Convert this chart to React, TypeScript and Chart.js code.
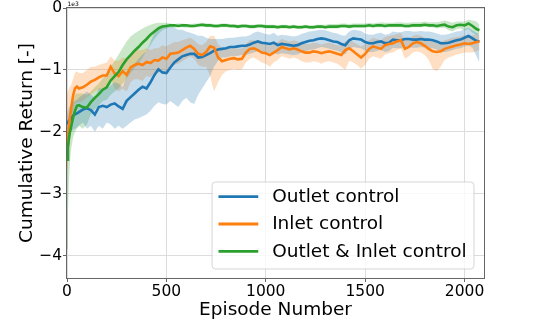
import React, { useEffect, useRef } from "react";
import { Chart, registerables } from "chart.js";

Chart.register(...registerables);

// Episode numbers (x)
const episodes = [
  0, 5, 10, 15, 20, 30, 40, 50, 60,
  80, 100, 120, 140, 160, 180, 200, 220, 240, 260,
  280, 300, 320, 340, 360, 380, 400, 420, 440, 460,
  480, 500, 520, 540, 560, 580, 600, 620, 640, 660,
  680, 700, 720, 740, 760, 780, 800, 820, 840, 860,
  880, 900, 920, 940, 960, 980, 1000, 1020, 1040, 1060,
  1080, 1100, 1120, 1140, 1160, 1180, 1200, 1220, 1240, 1260,
  1280, 1300, 1320, 1340, 1360, 1380, 1400, 1420, 1440, 1460,
  1480, 1500, 1520, 1540, 1560, 1580, 1600, 1620, 1640, 1660,
  1680, 1700, 1720, 1740, 1760, 1780, 1800, 1820, 1840, 1860,
  1880, 1900, 1920, 1940, 1960, 1980, 2000, 2020, 2040, 2060,
  2075,
];

// Values in units of 1e3
const outletMean = [
  -1.86, -1.84, -1.82, -1.80, -1.80, -1.74, -1.72, -1.70, -1.68,
  -1.64, -1.62, -1.65, -1.72, -1.60, -1.58, -1.60, -1.56, -1.54, -1.59,
  -1.63, -1.50, -1.44, -1.38, -1.32, -1.27, -1.30, -1.20, -1.08, -0.99,
  -1.04, -1.05, -0.96, -0.88, -0.83, -0.78, -0.76, -0.74, -0.74, -0.80,
  -0.79, -0.76, -0.73, -0.69, -0.67, -0.66, -0.65, -0.63, -0.63, -0.62,
  -0.61, -0.61, -0.59, -0.56, -0.54, -0.56, -0.57, -0.58, -0.56, -0.60,
  -0.58, -0.59, -0.60, -0.61, -0.60, -0.57, -0.55, -0.53, -0.52, -0.50,
  -0.49, -0.50, -0.52, -0.54, -0.55, -0.58, -0.60, -0.52, -0.49, -0.50,
  -0.51, -0.55, -0.57, -0.57, -0.55, -0.54, -0.57, -0.56, -0.51, -0.52,
  -0.52, -0.50, -0.50, -0.51, -0.51, -0.50, -0.51, -0.51, -0.52, -0.54,
  -0.57, -0.57, -0.56, -0.54, -0.52, -0.51, -0.48, -0.45, -0.49, -0.53,
  -0.54,
];
const outletUpper = [
  -1.70, -1.65, -1.60, -1.58, -1.55, -1.52, -1.50, -1.48, -1.45,
  -1.40, -1.35, -1.40, -1.45, -1.30, -1.30, -1.30, -1.25, -1.20, -1.22,
  -1.28, -1.10, -1.00, -0.90, -0.82, -0.75, -0.70, -0.55, -0.40, -0.30,
  -0.30, -0.28, -0.30, -0.32, -0.35, -0.35, -0.38, -0.40, -0.42, -0.45,
  -0.45, -0.48, -0.50, -0.50, -0.50, -0.50, -0.49, -0.48, -0.48, -0.47,
  -0.46, -0.46, -0.44, -0.40, -0.38, -0.40, -0.42, -0.43, -0.40, -0.45,
  -0.43, -0.44, -0.45, -0.46, -0.45, -0.42, -0.40, -0.38, -0.37, -0.36,
  -0.35, -0.36, -0.38, -0.40, -0.41, -0.44, -0.45, -0.38, -0.35, -0.36,
  -0.37, -0.41, -0.43, -0.43, -0.41, -0.40, -0.43, -0.42, -0.38, -0.39,
  -0.39, -0.37, -0.37, -0.38, -0.38, -0.37, -0.38, -0.38, -0.39, -0.41,
  -0.43, -0.43, -0.42, -0.40, -0.38, -0.37, -0.34, -0.32, -0.36, -0.40,
  -0.42,
];
const outletLower = [
  -1.95, -1.98, -2.00, -2.00, -2.00, -1.97, -1.95, -1.93, -1.90,
  -1.85, -1.95, -1.90, -2.00, -1.90, -1.95, -1.85, -1.88, -1.95, -1.90,
  -1.95, -1.90, -1.85, -1.80, -1.78, -1.75, -1.72, -1.66, -1.58, -1.52,
  -1.55, -1.56, -1.50, -1.55, -1.60, -1.50, -1.45, -1.52, -1.55, -1.40,
  -1.30, -1.20, -1.10, -0.95, -0.85, -0.80, -0.80, -0.78, -0.78, -0.77,
  -0.76, -0.76, -0.74, -0.72, -0.70, -0.72, -0.72, -0.73, -0.72, -0.75,
  -0.73, -0.74, -0.75, -0.76, -0.75, -0.72, -0.70, -0.68, -0.67, -0.65,
  -0.63, -0.64, -0.66, -0.68, -0.69, -0.72, -0.75, -0.66, -0.63, -0.64,
  -0.65, -0.69, -0.71, -0.71, -0.69, -0.68, -0.71, -0.70, -0.64, -0.65,
  -0.65, -0.63, -0.63, -0.64, -0.64, -0.63, -0.64, -0.64, -0.65, -0.67,
  -0.71, -0.71, -0.70, -0.68, -0.66, -0.65, -0.62, -0.60, -0.64, -0.78,
  -0.88,
];

const inletMean = [
  -2.20, -2.05, -1.90, -1.75, -1.65, -1.42, -1.30, -1.27, -1.30,
  -1.28, -1.24, -1.19, -1.16, -1.12, -1.09, -1.09, -0.95, -1.06, -1.10,
  -1.02, -1.08, -0.96, -0.92, -0.90, -0.92, -0.87, -0.89, -0.84, -0.85,
  -0.80, -0.82, -0.74, -0.73, -0.72, -0.68, -0.64, -0.61, -0.66, -0.74,
  -0.76, -0.71, -0.62, -0.64, -0.80, -0.86, -0.84, -0.82, -0.81, -0.83,
  -0.82, -0.72, -0.66, -0.65, -0.68, -0.72, -0.73, -0.76, -0.72, -0.68,
  -0.63, -0.65, -0.67, -0.65, -0.67, -0.70, -0.72, -0.72, -0.70, -0.71,
  -0.73, -0.71, -0.70, -0.72, -0.74, -0.76, -0.68, -0.65, -0.70, -0.75,
  -0.80, -0.74, -0.66, -0.62, -0.64, -0.66, -0.60, -0.58, -0.57, -0.54,
  -0.52, -0.66, -0.63, -0.57, -0.55, -0.57, -0.61, -0.66, -0.70, -0.71,
  -0.70, -0.66, -0.64, -0.62, -0.60, -0.59, -0.57, -0.58, -0.57, -0.55,
  -0.54,
];
const inletUpper = [
  -1.40, -1.35, -1.30, -1.27, -1.25, -1.15, -1.05, -1.02, -1.05,
  -1.05, -1.00, -0.95, -0.95, -0.92, -0.90, -0.88, -0.78, -0.85, -0.85,
  -0.80, -0.82, -0.75, -0.70, -0.68, -0.68, -0.65, -0.68, -0.65, -0.65,
  -0.60, -0.62, -0.58, -0.55, -0.55, -0.52, -0.50, -0.48, -0.52, -0.58,
  -0.60, -0.55, -0.45, -0.45, -0.58, -0.65, -0.66, -0.65, -0.65, -0.66,
  -0.65, -0.58, -0.52, -0.52, -0.55, -0.58, -0.59, -0.61, -0.58, -0.55,
  -0.50, -0.52, -0.54, -0.52, -0.54, -0.56, -0.58, -0.58, -0.56, -0.57,
  -0.59, -0.57, -0.56, -0.58, -0.60, -0.61, -0.54, -0.51, -0.55, -0.58,
  -0.62, -0.58, -0.52, -0.48, -0.50, -0.52, -0.47, -0.45, -0.44, -0.42,
  -0.40, -0.52, -0.50, -0.45, -0.43, -0.45, -0.48, -0.52, -0.55, -0.56,
  -0.55, -0.52, -0.50, -0.48, -0.47, -0.46, -0.44, -0.45, -0.44, -0.43,
  -0.43,
];
const inletLower = [
  -2.60, -2.45, -2.30, -2.15, -2.00, -1.70, -1.55, -1.52, -1.52,
  -1.50, -1.45, -1.40, -1.35, -1.32, -1.30, -1.30, -1.15, -1.30, -1.35,
  -1.30, -1.35, -1.20, -1.15, -1.15, -1.18, -1.10, -1.12, -1.05, -1.05,
  -1.00, -1.02, -0.92, -0.92, -0.90, -0.86, -0.82, -0.78, -0.82, -0.92,
  -0.95, -0.95, -1.10, -1.35, -1.20, -1.08, -1.02, -1.00, -0.98, -1.00,
  -0.99, -0.88, -0.82, -0.80, -0.84, -0.88, -0.90, -0.95, -0.88, -0.84,
  -0.78, -0.80, -0.82, -0.80, -0.82, -0.86, -0.88, -0.88, -0.86, -0.87,
  -0.90, -0.87, -0.86, -0.88, -0.90, -0.95, -1.00, -0.85, -0.88, -0.92,
  -0.98, -0.92, -0.82, -0.78, -0.80, -0.82, -0.75, -0.73, -0.72, -0.68,
  -0.66, -0.82, -0.78, -0.72, -0.70, -0.72, -0.76, -0.84, -0.98, -1.02,
  -0.95, -0.84, -0.80, -0.78, -0.75, -0.74, -0.72, -0.72, -0.72, -0.70,
  -0.68,
];

const bothMean = [
  -2.45, -2.25, -2.10, -2.00, -1.93, -1.78, -1.66, -1.58, -1.57,
  -1.60, -1.61, -1.52, -1.45, -1.39, -1.32, -1.28, -1.17, -1.10, -1.03,
  -0.92, -0.83, -0.76, -0.69, -0.63, -0.56, -0.50, -0.43, -0.38, -0.33,
  -0.30, -0.29, -0.28, -0.28, -0.29, -0.28, -0.28, -0.29, -0.29, -0.28,
  -0.27, -0.28, -0.28, -0.29, -0.29, -0.28, -0.28, -0.29, -0.29, -0.30,
  -0.29, -0.29, -0.30, -0.30, -0.29, -0.29, -0.30, -0.30, -0.30, -0.31,
  -0.30, -0.30, -0.31, -0.30, -0.31, -0.31, -0.30, -0.31, -0.31, -0.30,
  -0.30, -0.31, -0.30, -0.30, -0.30, -0.29, -0.29, -0.30, -0.29, -0.29,
  -0.29, -0.29, -0.28, -0.29, -0.28, -0.28, -0.29, -0.28, -0.28, -0.28,
  -0.28, -0.29, -0.29, -0.28, -0.28, -0.28, -0.27, -0.28, -0.28, -0.29,
  -0.28, -0.27, -0.30, -0.31, -0.28, -0.27, -0.28, -0.25, -0.29, -0.34,
  -0.36,
];
const bothUpper = [
  -2.00, -1.85, -1.72, -1.62, -1.55, -1.45, -1.40, -1.38, -1.38,
  -1.38, -1.40, -1.35, -1.28, -1.22, -1.14, -1.05, -0.95, -0.85, -0.75,
  -0.64, -0.54, -0.46, -0.41, -0.37, -0.33, -0.30, -0.27, -0.25, -0.24,
  -0.24, -0.24, -0.25, -0.26, -0.25, -0.25, -0.26, -0.26, -0.25, -0.25,
  -0.24, -0.25, -0.25, -0.26, -0.26, -0.25, -0.25, -0.26, -0.26, -0.27,
  -0.26, -0.26, -0.27, -0.27, -0.26, -0.26, -0.27, -0.27, -0.27, -0.28,
  -0.27, -0.27, -0.28, -0.27, -0.28, -0.28, -0.27, -0.28, -0.28, -0.27,
  -0.27, -0.27, -0.26, -0.26, -0.26, -0.25, -0.25, -0.26, -0.25, -0.25,
  -0.25, -0.25, -0.24, -0.25, -0.24, -0.23, -0.24, -0.24, -0.24, -0.23,
  -0.23, -0.24, -0.24, -0.23, -0.23, -0.23, -0.22, -0.23, -0.23, -0.23,
  -0.22, -0.20, -0.22, -0.24, -0.22, -0.22, -0.22, -0.19, -0.20, -0.22,
  -0.27,
];
const bothLower = [
  -3.90, -3.30, -2.80, -2.50, -2.30, -2.10, -2.00, -1.95, -1.90,
  -1.95, -1.88, -1.72, -1.64, -1.57, -1.50, -1.48, -1.40, -1.35, -1.30,
  -1.22, -1.14, -1.05, -0.97, -0.89, -0.80, -0.70, -0.60, -0.50, -0.42,
  -0.36, -0.33, -0.31, -0.32, -0.31, -0.31, -0.32, -0.32, -0.31, -0.31,
  -0.30, -0.31, -0.31, -0.32, -0.32, -0.31, -0.31, -0.32, -0.32, -0.33,
  -0.32, -0.32, -0.33, -0.33, -0.32, -0.32, -0.33, -0.33, -0.33, -0.34,
  -0.33, -0.33, -0.34, -0.33, -0.34, -0.34, -0.33, -0.34, -0.34, -0.33,
  -0.33, -0.34, -0.33, -0.33, -0.33, -0.32, -0.32, -0.33, -0.32, -0.32,
  -0.32, -0.32, -0.31, -0.32, -0.31, -0.31, -0.32, -0.31, -0.31, -0.31,
  -0.31, -0.32, -0.32, -0.31, -0.31, -0.31, -0.30, -0.31, -0.31, -0.33,
  -0.32, -0.32, -0.36, -0.38, -0.34, -0.33, -0.36, -0.34, -0.40, -0.44,
  -0.42,
];

const seriesLabels = ["Outlet control", "Inlet control", "Outlet & Inlet control"];
const xTicks = [0, 500, 1000, 1500, 2000];
const yTicks = [0, -1, -2, -3, -4];

const FONT = "'DejaVu Sans', sans-serif";
const COLORS = ["#1f77b4", "#ff7f0e", "#2ca02c"];
const BANDS = ["rgba(31,119,180,0.25)", "rgba(255,127,14,0.25)", "rgba(44,160,44,0.25)"];

const pts = (vals: number[]) => episodes.map((e, i) => ({ x: e, y: vals[i] }));

const fmt = (v: number) => (v < 0 ? "\u2212" + Math.abs(v) : String(v));

const framePlugin = {
  id: "frameAndLegend",
  afterDraw(chart: any) {
    const { ctx, chartArea } = chart;
    const { left, right, top, bottom } = chartArea;
    ctx.save();
    // spines
    ctx.strokeStyle = "#666666";
    ctx.lineWidth = 1;
    ctx.strokeRect(left - 0.5, top - 0.5, right - left + 1, bottom - top + 1);
    // offset text
    ctx.fillStyle = "#000";
    ctx.font = `6px ${FONT}`;
    ctx.textAlign = "left";
    ctx.textBaseline = "alphabetic";
    ctx.fillText("1e3", left + 0.5, top - 2.5);

    // legend (lower right)
    const fs = 18.5;
    ctx.font = `${fs}px ${FONT}`;
    const pad = 0.4 * fs;
    const handleLen = 2.15 * fs;
    const handlePad = 0.75 * fs;
    const rowH = 27.3;
    const maxW = Math.max(...seriesLabels.map((s) => ctx.measureText(s).width));
    const bw = pad + handleLen + handlePad + maxW + pad - 1;
    const bh = 87;
    const bx = right - 10 - bw;
    const by = bottom - 9 - bh;
    ctx.beginPath();
    if (ctx.roundRect) ctx.roundRect(bx, by, bw, bh, 3.5);
    else ctx.rect(bx, by, bw, bh);
    ctx.fillStyle = "rgba(255,255,255,0.8)";
    ctx.fill();
    ctx.strokeStyle = "rgba(204,204,204,0.8)";
    ctx.stroke();
    seriesLabels.forEach((lab, i) => {
      const y = by + 14.7 + i * rowH;
      ctx.beginPath();
      ctx.strokeStyle = COLORS[i];
      ctx.lineWidth = 2.8;
      ctx.moveTo(bx + pad - 1, y);
      ctx.lineTo(bx + pad - 1 + handleLen, y);
      ctx.stroke();
      ctx.fillStyle = "#000";
      ctx.textBaseline = "middle";
      ctx.fillText(lab, bx + pad + handleLen + handlePad - 1, y + 0.5);
    });
    ctx.restore();
  },
};

export default function App() {
  const ref = useRef<HTMLCanvasElement | null>(null);
  useEffect(() => {
    if (!ref.current) return;
    const means = [outletMean, inletMean, bothMean];
    const uppers = [outletUpper, inletUpper, bothUpper];
    const lowers = [outletLower, inletLower, bothLower];
    const datasets: any[] = [];
    [0, 1, 2].forEach((k) => {
      datasets.push({
        label: seriesLabels[k] + " upper",
        data: pts(uppers[k]),
        borderWidth: 0,
        pointRadius: 0,
        fill: false,
        order: 10 + k,
      });
      datasets.push({
        label: seriesLabels[k] + " lower",
        data: pts(lowers[k]),
        borderWidth: 0,
        pointRadius: 0,
        backgroundColor: BANDS[k],
        fill: "-1",
        order: 10 + k,
      });
    });
    [0, 1, 2].forEach((k) => {
      datasets.push({
        label: seriesLabels[k],
        data: pts(means[k]),
        borderColor: COLORS[k],
        borderWidth: 2.6,
        pointRadius: 0,
        fill: false,
        tension: 0,
        order: 2 - k,
      });
    });

    const chart = new Chart(ref.current, {
      type: "line",
      data: { datasets },
      plugins: [framePlugin],
      options: {
        responsive: false,
        animation: false,
        devicePixelRatio: 1,
        layout: { padding: { top: 8, right: 54, left: 0, bottom: 0 } },
        plugins: { legend: { display: false }, tooltip: { enabled: false } },
        scales: {
          x: {
            type: "linear",
            min: 0,
            max: 2098,
            afterBuildTicks: (s: any) => {
              s.ticks = xTicks.map((v) => ({ value: v }));
            },
            afterFit: (s: any) => {
              s.height = 46;
              s.paddingLeft = 0;
              s.paddingRight = 0;
            },
            ticks: {
              font: { family: FONT, size: 15.5 },
              color: "#000",
              padding: 1,
              maxRotation: 0,
              callback: (v: any) => fmt(Number(v)),
            },
            grid: { color: "#dcdcdc", tickColor: "#666666", tickLength: 4, lineWidth: 1 },
            border: { display: false },
            title: {
              display: true,
              text: "Episode Number",
              font: { family: FONT, size: 18.5 },
              color: "#000",
              padding: { top: 0, bottom: 3 },
            },
          },
          y: {
            type: "linear",
            min: -4.36,
            max: 0,
            afterBuildTicks: (s: any) => {
              s.ticks = yTicks.map((v) => ({ value: v }));
            },
            afterFit: (s: any) => {
              s.width = 67;
              s.paddingTop = 0;
              s.paddingBottom = 0;
            },
            ticks: {
              font: { family: FONT, size: 15.5 },
              color: "#000",
              padding: 1,
              callback: (v: any) => fmt(Number(v)),
            },
            grid: { color: "#dcdcdc", tickColor: "#666666", tickLength: 4, lineWidth: 1 },
            border: { display: false },
            title: {
              display: true,
              text: "Cumulative Return [-]",
              font: { family: FONT, size: 18.5 },
              color: "#000",
              padding: { top: 16, bottom: 0 },
            },
          },
        },
      } as any,
    });
    return () => chart.destroy();
  }, []);

  return (
    <div style={{ position: "absolute", left: 0, top: 0, width: 538, height: 324 }}>
      <canvas ref={ref} width={538} height={324} style={{ display: "block" }} />
    </div>
  );
}
